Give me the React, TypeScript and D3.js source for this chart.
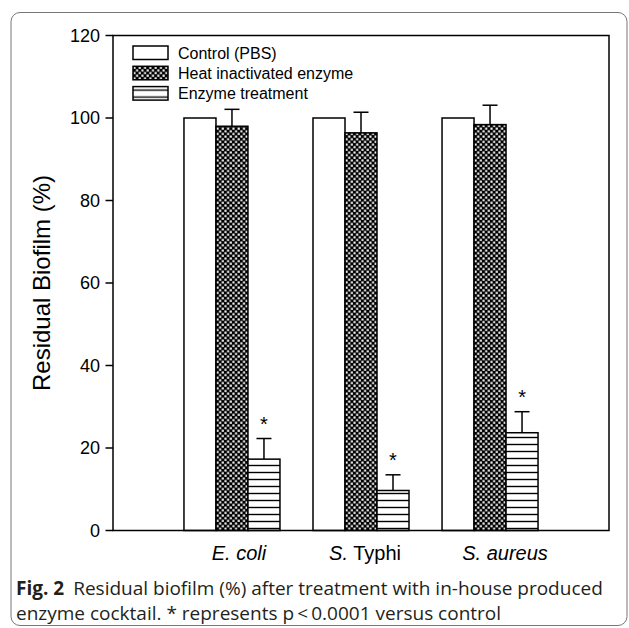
import React from 'react';
import * as d3 from 'd3';

const species = ['E. coli', 'S. Typhi', 'S. aureus'];
const labelNudge = [7, 4, 15];
const treatments = ['Control (PBS)', 'Heat inactivated enzyme', 'Enzyme treatment'];
const controlMean = [100, 100, 100];
const controlErr = [0, 0, 0];
const heatMean = [98.0, 96.4, 98.4];
const heatErr = [4.1, 5.0, 4.7];
const enzymeMean = [17.3, 9.7, 23.7];
const enzymeErr = [5.0, 3.8, 5.1];
const yTicks = [0, 20, 40, 60, 80, 100, 120];

const W = 629;
const H = 628;
const margin = { top: 35.5, right: 20, bottom: 97.5, left: 113 };
const sans = '"Liberation Sans", Arial, sans-serif';
const captionFont = '"Open Sans", "Noto Sans", sans-serif';

const fills = ['#ffffff', 'url(#cross)', 'url(#hlines)'];
const means = [controlMean, heatMean, enzymeMean];
const errs = [controlErr, heatErr, enzymeErr];

const App = () => {
  const x = d3.scalePoint<string>()
    .domain(species)
    .range([margin.left, W - margin.right])
    .padding(0.922);

  const y = d3.scaleLinear()
    .domain([0, 120])
    .range([H - margin.bottom, margin.top]);

  const inner = d3.scaleBand<number>()
    .domain([0, 1, 2])
    .range([-48, 48])
    .padding(0);

  const bw = inner.bandwidth();
  const cap = 15;

  const label = (s: string) => {
    if (s === 'S. Typhi') {
      return (<><tspan fontStyle="italic">S.</tspan><tspan> Typhi</tspan></>);
    }
    return <tspan fontStyle="italic">{s}</tspan>;
  };

  return (
    <svg width={W} height={H} style={{ position: 'absolute', left: 0, top: 0 }}>
      <defs>
        <pattern id="cross" patternUnits="userSpaceOnUse" width="5.3" height="5.3">
          <rect width="5.3" height="5.3" fill="#000" />
          <rect x="0.4" y="0.4" width="2.1" height="2.1" fill="#fff" />
          <rect x="3.05" y="3.05" width="2.1" height="2.1" fill="#fff" />
        </pattern>
        <pattern id="hlines" patternUnits="userSpaceOnUse" width="10" height="7">
          <rect width="10" height="7" fill="#fff" />
          <line x1="0" x2="10" y1="3.5" y2="3.5" stroke="#000" strokeWidth="1.4" />
        </pattern>
      </defs>

      <rect x={11} y={12.5} width={616} height={613} rx={9} fill="none" stroke="#777" strokeWidth={1} />

      {/* bars */}
      {species.map((s, i) => (
        <g key={s} transform={`translate(${x(s)},0)`}>
          {treatments.map((t, j) => {
            const x0 = inner(j)!;
            const m = means[j][i];
            const e = errs[j][i];
            return (
              <g key={t}>
                {e > 0 && (
                  <g stroke="#000" strokeWidth={1.5}>
                    <line x1={x0 + bw / 2} x2={x0 + bw / 2} y1={y(m)} y2={y(m + e)} />
                    <line x1={x0 + bw / 2 - cap / 2} x2={x0 + bw / 2 + cap / 2} y1={y(m + e)} y2={y(m + e)} />
                  </g>
                )}
                <rect x={x0} y={y(m)} width={bw} height={y(0) - y(m)}
                  fill={fills[j]} stroke="#000" strokeWidth={1.5} />
                {j === 2 && (
                  <text x={x0 + bw / 2} y={y(m + e) - 8} textAnchor="middle"
                    fontFamily={sans} fontSize={20} fill="#000">*</text>
                )}
              </g>
            );
          })}
        </g>
      ))}

      {/* plot frame */}
      <rect x={margin.left} y={margin.top} width={W - margin.right - margin.left}
        height={y(0) - margin.top} fill="none" stroke="#000" strokeWidth={1.5} />

      {/* y axis */}
      {yTicks.map(t => (
        <g key={t}>
          <line x1={margin.left - 7.5} x2={margin.left} y1={y(t)} y2={y(t)} stroke="#000" strokeWidth={1.5} />
          <text x={margin.left - 13} y={y(t)} dy="0.35em" textAnchor="end"
            fontFamily={sans} fontSize={18} fill="#000">{t}</text>
        </g>
      ))}
      <text transform={`translate(50,${(margin.top + y(0)) / 2}) rotate(-90)`} textAnchor="middle"
        fontFamily={sans} fontSize={24} fill="#000">Residual Biofilm (%)</text>

      {/* x labels */}
      {species.map((s, i) => (
        <text key={s} x={x(s)! + labelNudge[i]} y={560} textAnchor="middle" fontFamily={sans} fontSize={20} fill="#000">
          {label(s)}
        </text>
      ))}

      {/* legend */}
      {treatments.map((t, j) => (
        <g key={t} transform={`translate(133,${46 + j * 20.3})`}>
          <rect width={35} height={13.5} fill={fills[j]} stroke="#000" strokeWidth={1.5} />
          <text x={45} y={7} dy="0.35em" fontFamily={sans} fontSize={16} fill="#000">{t}</text>
        </g>
      ))}

      {/* caption */}
      <text x={16} y={595} fontFamily={captionFont} fontSize={19} fill="#231f20">
        <tspan fontWeight="bold">Fig. 2</tspan>
        <tspan dx={9}>Residual biofilm (%) after treatment with in-house produced</tspan>
      </text>
      <text x={16} y={620} fontFamily={captionFont} fontSize={19} fill="#231f20">
        enzyme cocktail. * represents p{'\u2009'}&lt;{'\u2009'}0.0001 versus control
      </text>
    </svg>
  );
};

export default App;
